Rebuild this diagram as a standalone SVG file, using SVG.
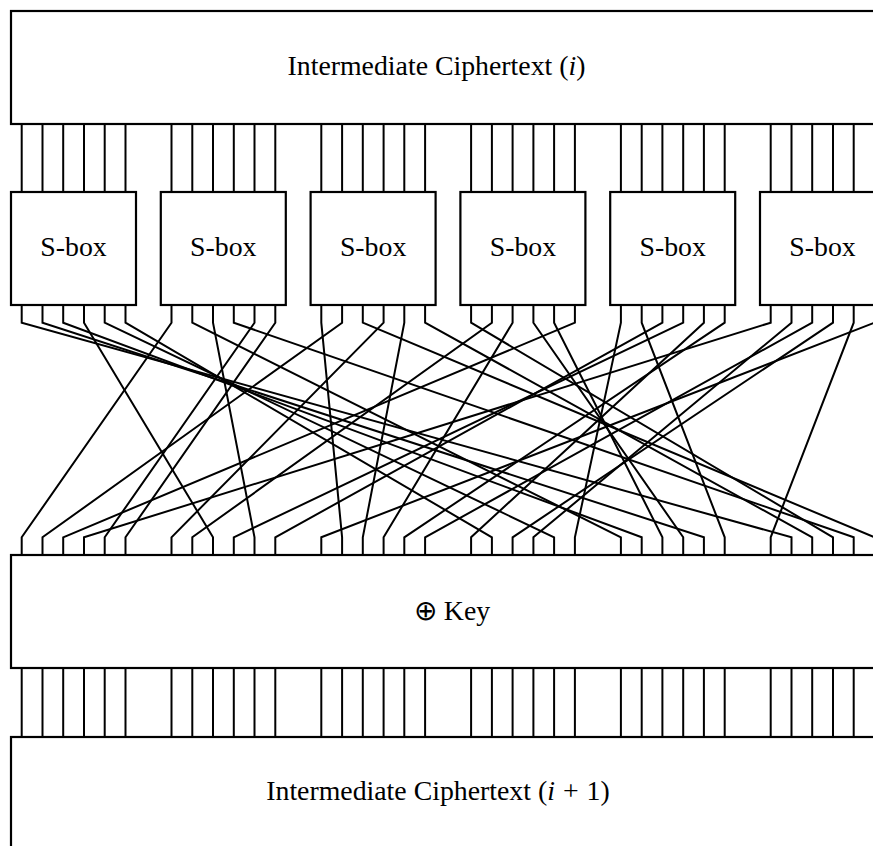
<svg xmlns="http://www.w3.org/2000/svg" width="873" height="846" viewBox="0 0 873 846">
  <style>
    .box { fill: #fff; stroke: #000; stroke-width: 2.2; }
    .w { fill: none; stroke: #000; stroke-width: 2; stroke-linejoin: miter; }
    .lbl { font-family: "Liberation Serif", "Times New Roman", serif; font-size: 27.8px; fill: #000; text-anchor: middle; }
    .it { font-style: italic; }
  </style>
  <rect width="873" height="846" fill="#fff"/>

  <!-- state boxes -->
  <g id="state-i">
    <rect class="box" x="11" y="11" width="900" height="113"/>
    <text class="lbl" x="436.5" y="74.5">Intermediate Ciphertext (<tspan class="it">i</tspan>)</text>
  </g>

  <g id="sbox-1"><rect class="box" x="11" y="192" width="125" height="113"/><text class="lbl" x="73.5" y="256">S-box</text></g>
  <g id="sbox-2"><rect class="box" x="160.8" y="192" width="125" height="113"/><text class="lbl" x="223.3" y="256">S-box</text></g>
  <g id="sbox-3"><rect class="box" x="310.6" y="192" width="125" height="113"/><text class="lbl" x="373.1" y="256">S-box</text></g>
  <g id="sbox-4"><rect class="box" x="460.4" y="192" width="125" height="113"/><text class="lbl" x="522.9" y="256">S-box</text></g>
  <g id="sbox-5"><rect class="box" x="610.2" y="192" width="125" height="113"/><text class="lbl" x="672.7" y="256">S-box</text></g>
  <g id="sbox-6"><rect class="box" x="760" y="192" width="125" height="113"/><text class="lbl" x="822.5" y="256">S-box</text></g>

  <g id="key">
    <rect class="box" x="11" y="555" width="900" height="113"/>
    <text class="lbl" x="452" y="620">⊕ Key</text>
  </g>

  <g id="state-i1">
    <rect class="box" x="11" y="737" width="900" height="140"/>
    <text class="lbl" x="438" y="799.5">Intermediate Ciphertext (<tspan class="it">i</tspan><tspan dx="8">+</tspan><tspan dx="8">1)</tspan></text>
  </g>

  <!-- wiring -->
  <g id="connectors" class="w">
    <!-- state -> S-box inputs -->
    <path d="M21.7 124V192M42.5 124V192M63.2 124V192M84 124V192M104.7 124V192M125.5 124V192
             M171.5 124V192M192.3 124V192M213 124V192M233.8 124V192M254.5 124V192M275.3 124V192
             M321.3 124V192M342.1 124V192M362.8 124V192M383.6 124V192M404.3 124V192M425.1 124V192
             M471.1 124V192M491.9 124V192M512.6 124V192M533.4 124V192M554.1 124V192M574.9 124V192
             M620.9 124V192M641.7 124V192M662.4 124V192M683.2 124V192M703.9 124V192M724.7 124V192
             M770.7 124V192M791.5 124V192M812.2 124V192M833 124V192M853.7 124V192M874.5 124V192"/>

    <!-- bit permutation: S-box outputs -> key addition -->
    <path d="M21.7 305V322.7L791.5 537.3V555"/>
    <path d="M42.5 305V322.7L703.9 537.3V555"/>
    <path d="M63.2 305V322.7L641.7 537.3V555"/>
    <path d="M84 305V322.7L213 537.3V555"/>
    <path d="M104.7 305V322.7L554.1 537.3V555"/>
    <path d="M125.5 305V322.7L491.9 537.3V555"/>
    <path d="M171.5 305V322.7L21.7 537.3V555"/>
    <path d="M192.3 305V322.7L620.9 537.3V555"/>
    <path d="M213 305V322.7L254.5 537.3V555"/>
    <path d="M233.8 305V322.7L853.7 537.3V555"/>
    <path d="M254.5 305V322.7L104.7 537.3V555"/>
    <path d="M275.3 305V322.7L125.5 537.3V555"/>
    <path d="M321.3 305V322.7L342.1 537.3V555"/>
    <path d="M342.1 305V322.7L42.5 537.3V555"/>
    <path d="M362.8 305V322.7L874.5 537.3V555"/>
    <path d="M383.6 305V322.7L171.5 537.3V555"/>
    <path d="M404.3 305V322.7L362.8 537.3V555"/>
    <path d="M425.1 305V322.7L812.2 537.3V555"/>
    <path d="M471.1 305V322.7L833 537.3V555"/>
    <path d="M491.9 305V322.7L192.3 537.3V555"/>
    <path d="M512.6 305V322.7L383.6 537.3V555"/>
    <path d="M533.4 305V322.7L683.2 537.3V555"/>
    <path d="M554.1 305V322.7L662.4 537.3V555"/>
    <path d="M574.9 305V322.7L63.2 537.3V555"/>
    <path d="M620.9 305V322.7L574.9 537.3V555"/>
    <path d="M641.7 305V322.7L724.7 537.3V555"/>
    <path d="M662.4 305V322.7L275.3 537.3V555"/>
    <path d="M683.2 305V322.7L233.8 537.3V555"/>
    <path d="M703.9 305V322.7L471.1 537.3V555"/>
    <path d="M724.7 305V322.7L404.3 537.3V555"/>
    <path d="M770.7 305V322.7L84 537.3V555"/>
    <path d="M791.5 305V322.7L533.4 537.3V555"/>
    <path d="M812.2 305V322.7L425.1 537.3V555"/>
    <path d="M833 305V322.7L512.6 537.3V555"/>
    <path d="M853.7 305V322.7L770.7 537.3V555"/>
    <path d="M874.5 305V322.7L321.3 537.3V555"/>

    <!-- key addition -> next state -->
    <path d="M21.7 668V737M42.5 668V737M63.2 668V737M84 668V737M104.7 668V737M125.5 668V737
             M171.5 668V737M192.3 668V737M213 668V737M233.8 668V737M254.5 668V737M275.3 668V737
             M321.3 668V737M342.1 668V737M362.8 668V737M383.6 668V737M404.3 668V737M425.1 668V737
             M471.1 668V737M491.9 668V737M512.6 668V737M533.4 668V737M554.1 668V737M574.9 668V737
             M620.9 668V737M641.7 668V737M662.4 668V737M683.2 668V737M703.9 668V737M724.7 668V737
             M770.7 668V737M791.5 668V737M812.2 668V737M833 668V737M853.7 668V737M874.5 668V737"/>
  </g>
</svg>
